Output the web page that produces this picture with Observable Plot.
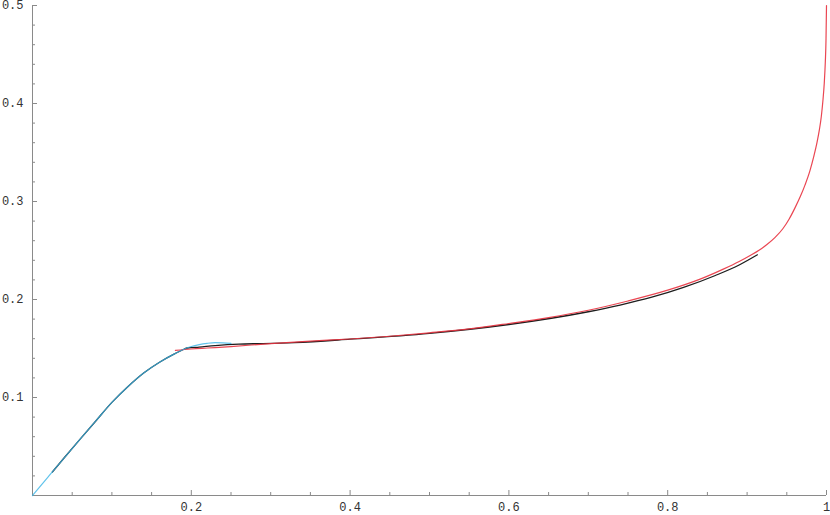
<!DOCTYPE html>
<html>
<head>
<meta charset="utf-8">
<script src="https://cdn.jsdelivr.net/npm/d3@7"></script>
<script src="https://cdn.jsdelivr.net/npm/@observablehq/plot@0.6"></script>
<style>
  html, body { margin: 0; padding: 0; background: #fff; }
  svg { display: block; }
</style>
</head>
<body>
<div id="chart"></div>
<script>
// Cyan series
const cyanX = [0, 0.02, 0.04, 0.06, 0.08, 0.10, 0.12, 0.14, 0.16, 0.18, 0.19, 0.20, 0.21, 0.22, 0.23, 0.24, 0.25];
const cyanY = [0, 0.0193, 0.0385, 0.0575, 0.0763, 0.095, 0.111, 0.125, 0.136, 0.145, 0.149, 0.152, 0.154, 0.1553, 0.156, 0.1558, 0.1553];

// Black series
const blackX = [0.025, 0.04, 0.06, 0.08, 0.10, 0.12, 0.14, 0.16, 0.18, 0.19, 0.195, 0.21, 0.23, 0.26, 0.29, 0.33, 0.40, 0.50, 0.60, 0.70, 0.74, 0.78, 0.82, 0.86, 0.89, 0.913];
const blackY = [0.024, 0.0385, 0.0575, 0.0763, 0.095, 0.111, 0.125, 0.136, 0.145, 0.149, 0.1505, 0.1515, 0.153, 0.1545, 0.155, 0.156, 0.1595, 0.1655, 0.1745, 0.1875, 0.1943, 0.2023, 0.2123, 0.2245, 0.2352, 0.2456];

// Red series
const redX = [0.18, 0.20, 0.22, 0.25, 0.30, 0.35, 0.40, 0.45, 0.50, 0.55, 0.60, 0.65, 0.70, 0.75, 0.80, 0.84, 0.87, 0.89, 0.905, 0.915, 0.925, 0.935, 0.945, 0.953, 0.96, 0.967, 0.973, 0.979, 0.984, 0.988, 0.991, 0.9935, 0.9955, 0.9972, 0.9985, 0.9994, 1.0];
const redY = [0.148, 0.1495, 0.1505, 0.152, 0.155, 0.1575, 0.1597, 0.1625, 0.166, 0.170, 0.1755, 0.1815, 0.189, 0.1985, 0.2095, 0.2205, 0.231, 0.2388, 0.2454, 0.2503, 0.2562, 0.2632, 0.2722, 0.2822, 0.293, 0.305, 0.317, 0.331, 0.346, 0.360, 0.373, 0.387, 0.403, 0.421, 0.442, 0.466, 0.50];

// Tick labels
const xMajor = [0.2, 0.4, 0.6, 0.8, 1];
const xMinor = [0.05, 0.1, 0.15, 0.25, 0.3, 0.35, 0.45, 0.5, 0.55, 0.65, 0.7, 0.75, 0.85, 0.9, 0.95];
const yMajor = [0.1, 0.2, 0.3, 0.4, 0.5];
const yMinor = [0.02, 0.04, 0.06, 0.08, 0.12, 0.14, 0.16, 0.18, 0.22, 0.24, 0.26, 0.28, 0.32, 0.34, 0.36, 0.38, 0.42, 0.44, 0.46, 0.48];

const toPts = (xs, ys) => xs.map((x, i) => ({x, y: ys[i]}));
const cyan = toPts(cyanX, cyanY);
const black = toPts(blackX, blackY);
const red = toPts(redX, redY);

const axisColor = "#8a8a8a";
const fontFam = "'Liberation Mono', 'DejaVu Sans Mono', monospace";

const chart = Plot.plot({
  width: 830,
  height: 515,
  marginLeft: 32,
  marginRight: 4,
  marginTop: 5,
  marginBottom: 20,
  style: {fontFamily: fontFam, fontSize: "12px", background: "#fff", overflow: "visible"},
  x: {domain: [0, 1], label: null},
  y: {domain: [0, 0.5], label: null},
  marks: [
    // axis lines
    Plot.ruleY([0], {stroke: axisColor, strokeWidth: 1}),
    Plot.ruleX([0], {stroke: axisColor, strokeWidth: 1}),
    // x ticks (inward)
    Plot.axisX({ticks: xMajor, tickSize: 5, dy: -5, text: null, label: null, stroke: axisColor}),
    Plot.axisX({ticks: xMinor, tickSize: 3, dy: -3, text: null, label: null, stroke: axisColor}),
    Plot.axisX({ticks: xMajor, tickSize: 0, tickPadding: 7, tickFormat: d => String(d), fill: "#333", label: null, style: {letterSpacing: "1px"}}),
    // y ticks (inward)
    Plot.axisY({ticks: yMajor, tickSize: 5, dx: 5, text: null, label: null, stroke: axisColor}),
    Plot.axisY({ticks: yMinor, tickSize: 3, dx: 3, text: null, label: null, stroke: axisColor}),
    Plot.axisY({ticks: yMajor, tickSize: 0, tickPadding: 9, tickFormat: d => String(d), fill: "#333", label: null, style: {letterSpacing: "1px"}}),
    // curves
    Plot.line(black, {x: "x", y: "y", stroke: "#1e1e1e", strokeWidth: 1.3, curve: "monotone-x"}),
    Plot.line(red, {x: "x", y: "y", stroke: "#e8323f", strokeWidth: 1.2, strokeOpacity: 0.9, curve: "monotone-x"}),
    Plot.line(cyan, {x: "x", y: "y", stroke: "#38b4e6", strokeWidth: 1.2, strokeOpacity: 0.8, curve: "monotone-x"})
  ]
});
document.getElementById("chart").appendChild(chart);
</script>
</body>
</html>
